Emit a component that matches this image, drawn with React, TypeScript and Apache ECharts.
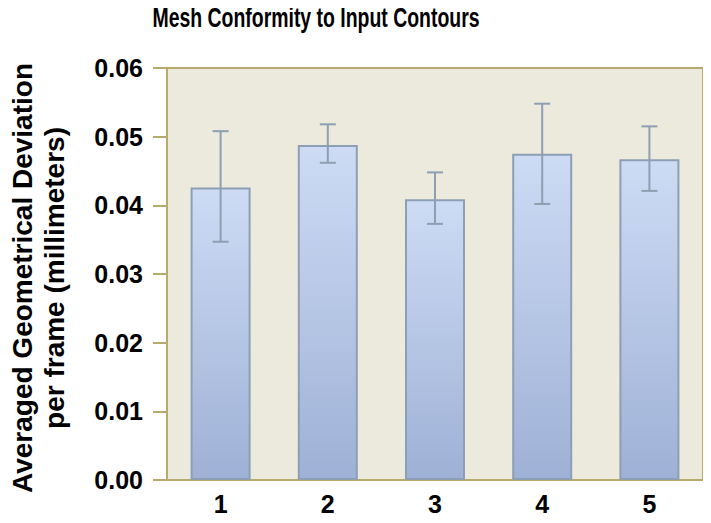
import React, { useEffect, useRef } from "react";
import * as echarts from "echarts";

const categories = ["1", "2", "3", "4", "5"];
const means = [0.0426, 0.0488, 0.0409, 0.0475, 0.0467];
const errLow = [0.0347, 0.0462, 0.0373, 0.0402, 0.0421];
const errHigh = [0.0508, 0.0518, 0.0448, 0.0548, 0.0515];
const yTicks = [0, 0.01, 0.02, 0.03, 0.04, 0.05, 0.06];
const titleText = "Mesh Conformity to Input Contours";
const yNameLines = ["Averaged Geometrical Deviation", "per frame (millimeters)"];

const OLIVE = "#b6ab6c";
const ERR = "#8d9fb1";
const FONT = "'Liberation Sans', Arial, Helvetica, sans-serif";

export default function App() {
  const ref = useRef<HTMLDivElement>(null);
  useEffect(() => {
    if (!ref.current) return;
    const chart = echarts.init(ref.current, null, { renderer: "svg" });
    chart.setOption({
      animation: false,
      backgroundColor: "#ffffff",
      grid: {
        left: 167,
        right: 8,
        top: 68,
        bottom: 43,
        show: true,
        backgroundColor: "#ece9dd",
        borderColor: OLIVE,
        borderWidth: 2,
      },
      graphic: [
        {
          type: "text",
          x: 316,
          y: 18,
          scaleX: 0.72,
          style: {
            text: titleText,
            fontFamily: FONT,
            fontWeight: "bold",
            fontSize: 27,
            fill: "#000",
            textAlign: "center",
            textVerticalAlign: "middle",
          },
        },
        {
          type: "text",
          x: 22,
          y: 278,
          rotation: Math.PI / 2,
          style: {
            text: yNameLines[0],
            fontFamily: FONT,
            fontWeight: "bold",
            fontSize: 28,
            fill: "#000",
            textAlign: "center",
            textVerticalAlign: "middle",
          },
        },
        {
          type: "text",
          x: 54,
          y: 278,
          rotation: Math.PI / 2,
          style: {
            text: yNameLines[1],
            fontFamily: FONT,
            fontWeight: "bold",
            fontSize: 28,
            fill: "#000",
            textAlign: "center",
            textVerticalAlign: "middle",
          },
        },
      ],
      xAxis: {
        type: "category",
        data: categories,
        axisLine: { show: true, lineStyle: { color: OLIVE, width: 2 } },
        axisTick: { show: false },
        axisLabel: {
          margin: 11,
          fontFamily: FONT,
          fontWeight: "bold",
          fontSize: 25,
          color: "#000",
        },
        splitLine: { show: false },
      },
      yAxis: {
        type: "value",
        min: 0,
        max: 0.06,
        interval: 0.01,
        axisLine: { show: true, lineStyle: { color: OLIVE, width: 2 } },
        axisTick: { show: true, length: 14, lineStyle: { color: OLIVE, width: 2 } },
        axisLabel: {
          margin: 24,
          formatter: (v: number) => {
            const t = yTicks.find((x) => Math.abs(x - v) < 1e-9);
            return (t !== undefined ? t : v).toFixed(2);
          },
          fontFamily: FONT,
          fontWeight: "bold",
          fontSize: 25,
          color: "#000",
        },
        splitLine: { show: false },
      },
      series: [
        {
          type: "bar",
          data: means,
          barWidth: 60,
          itemStyle: {
            color: new echarts.graphic.LinearGradient(0, 0, 0, 1, [
              { offset: 0, color: "#cddbf4" },
              { offset: 1, color: "#9eb1d6" },
            ]),
            borderColor: "#8d9fb4",
            borderWidth: 2,
          },
        },
        {
          type: "custom",
          data: categories.map((_, i) => [i, errLow[i], errHigh[i]]),
          renderItem: (params: any, api: any) => {
            const i = api.value(0);
            const lo = api.coord([i, api.value(1)]);
            const hi = api.coord([i, api.value(2)]);
            const hw = 8;
            const style = { stroke: ERR, lineWidth: 2 };
            return {
              type: "group",
              children: [
                { type: "line", shape: { x1: lo[0], y1: lo[1], x2: hi[0], y2: hi[1] }, style },
                { type: "line", shape: { x1: hi[0] - hw, y1: hi[1], x2: hi[0] + hw, y2: hi[1] }, style },
                { type: "line", shape: { x1: lo[0] - hw, y1: lo[1], x2: lo[0] + hw, y2: lo[1] }, style },
              ],
            };
          },
          z: 5,
        },
      ],
    });
    return () => chart.dispose();
  }, []);
  return <div ref={ref} style={{ width: 711, height: 523, margin: -8 }} />;
}
